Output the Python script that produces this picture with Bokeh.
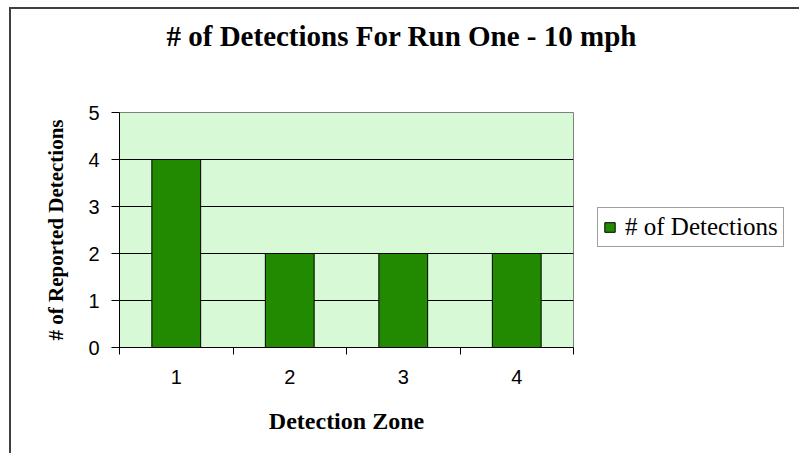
from bokeh.plotting import figure
from bokeh.models import Range1d, FixedTicker, Legend, LegendItem, Title
from bokeh.embed import file_html
from bokeh.resources import INLINE

# ---- data ----
zones = [1, 2, 3, 4]
zone_labels = ["1", "2", "3", "4"]
detections = [4, 2, 2, 2]
y_ticks = [0, 1, 2, 3, 4, 5]
series_name = "# of Detections"
chart_title = "# of Detections For Run One - 10 mph"

p = figure(frame_width=454, frame_height=235, output_backend="svg", toolbar_location=None,
           x_range=Range1d(0.5, 4.5), y_range=Range1d(0, 5),
           min_border_left=108, min_border_right=226,
           min_border_top=103, min_border_bottom=106)
p.styles = {"border-top": "2px solid #404040", "border-left": "2px solid #404040",
            "margin-left": "9px", "margin-top": "7px"}

p.background_fill_color = "#D8F9D6"
p.border_fill_color = "white"
p.outline_line_color = "#808080"
p.outline_line_width = 1

# title (a blank spacer title keeps the real one away from the frame)
p.title.text = ""
p.add_layout(Title(text=" ", text_font_size="40px"), "above")
p.add_layout(Title(text=chart_title, text_font="Liberation Serif", text_font_style="bold",
                   text_font_size="29px", text_color="black", align="left", offset=47,
                   vertical_align="bottom"), "above")

bars = p.vbar(x=zones, top=detections, width=0.43, fill_color="#218A00",
              line_color="black", line_width=1)

# y axis
p.yaxis.ticker = FixedTicker(ticks=y_ticks)
p.yaxis.axis_line_color = "black"
p.yaxis.major_tick_line_color = "black"
p.yaxis.major_tick_out = 8
p.yaxis.major_tick_in = 0
p.yaxis.minor_tick_line_color = None
p.yaxis.major_label_text_font = "Liberation Sans"
p.yaxis.major_label_text_font_size = "20px"
p.yaxis.major_label_text_color = "black"
p.yaxis.major_label_standoff = 12
p.yaxis.axis_label = "# of Reported Detections"
p.yaxis.axis_label_text_font = "Liberation Serif"
p.yaxis.axis_label_text_font_style = "bold"
p.yaxis.axis_label_text_font_size = "21px"
p.yaxis.axis_label_text_color = "black"
p.yaxis.axis_label_standoff = 17

# x axis: ticks at zone boundaries, labels at centres
boundaries = [z - 0.5 for z in zones] + [zones[-1] + 0.5]
p.xaxis.ticker = FixedTicker(ticks=zones, minor_ticks=boundaries)
p.xaxis.major_label_overrides = {z: l for z, l in zip(zones, zone_labels)}
p.xaxis.axis_line_color = "black"
p.xaxis.major_tick_out = 0
p.xaxis.major_tick_in = 0
p.xaxis.minor_tick_line_color = "black"
p.xaxis.minor_tick_out = 7
p.xaxis.minor_tick_in = 0
p.xaxis.major_label_text_font = "Liberation Sans"
p.xaxis.major_label_text_font_size = "20px"
p.xaxis.major_label_text_color = "black"
p.xaxis.major_label_standoff = 15
p.xaxis.axis_label = "Detection Zone"
p.xaxis.axis_label_text_font = "Liberation Serif"
p.xaxis.axis_label_text_font_style = "bold"
p.xaxis.axis_label_text_font_size = "24px"
p.xaxis.axis_label_text_color = "black"
p.xaxis.axis_label_standoff = 21

# grid
p.xgrid.grid_line_color = None
p.ygrid.ticker = FixedTicker(ticks=y_ticks[1:-1])
p.ygrid.grid_line_color = "black"
p.ygrid.grid_line_width = 1

legend = Legend(items=[LegendItem(label=series_name, renderers=[bars])],
                location=(24, 100), orientation="vertical",
                label_text_font="Liberation Serif", label_text_font_size="25px",
                label_text_color="black",
                glyph_width=13, glyph_height=12, label_standoff=9,
                padding=5, spacing=0, margin=0, label_height=23,
                border_line_color="#404040", border_line_width=1,
                background_fill_color="white", background_fill_alpha=1)
p.add_layout(legend, "right")

open("out.html", "w").write(file_html(p, INLINE))
